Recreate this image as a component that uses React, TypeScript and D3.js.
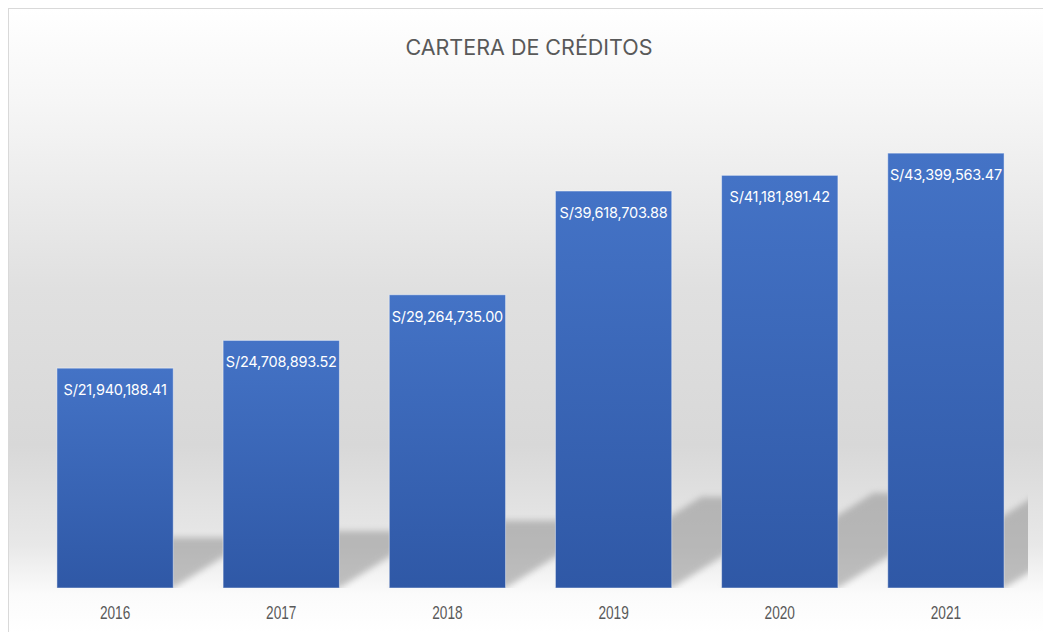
import { useEffect, useRef } from 'react';
import * as d3 from 'd3';

const years = ['2016', '2017', '2018', '2019', '2020', '2021'];
const credits = [21940188.41, 24708893.52, 29264735.0, 39618703.88, 41181891.42, 43399563.47];
const labels = [
  'S/21,940,188.41',
  'S/24,708,893.52',
  'S/29,264,735.00',
  'S/39,618,703.88',
  'S/41,181,891.42',
  'S/43,399,563.47',
];
const chartTitle = 'CARTERA DE CRÉDITOS';

const CreditChart = ({ width = 1043, height = 632 }: { width?: number; height?: number }) => {
  const svgRef = useRef<SVGSVGElement>(null);

  useEffect(() => {
    if (!svgRef.current) return;

    const svg = d3.select(svgRef.current);
    svg.selectAll('*').remove();

    const baseY = 588;
    const x = d3.scaleBand().domain(years).range([32, 1029]).paddingInner(0.3).paddingOuter(0.15);
    const y = d3.scaleLinear().domain([0, 50000000]).range([baseY, 87]);

    const defs = svg.append('defs');

    const bg = defs.append('linearGradient')
      .attr('id', 'bg-grad')
      .attr('gradientUnits', 'userSpaceOnUse')
      .attr('x1', 0).attr('y1', 8).attr('x2', 0).attr('y2', 632);
    [
      [0, '#ffffff'],
      [0.15, '#f6f6f6'],
      [0.45, '#e0e0e0'],
      [0.7, '#d8d8d8'],
      [0.86, '#e8e8e8'],
      [0.94, '#fbfbfb'],
      [1, '#ffffff'],
    ].forEach(([o, c]) => bg.append('stop').attr('offset', o as number).attr('stop-color', c as string));

    const barGrad = defs.append('linearGradient')
      .attr('id', 'bar-grad')
      .attr('x1', 0).attr('y1', 0).attr('x2', 0).attr('y2', 1);
    barGrad.append('stop').attr('offset', 0).attr('stop-color', '#4473c6');
    barGrad.append('stop').attr('offset', 1).attr('stop-color', '#2f58a6');

    defs.append('filter')
      .attr('id', 'blur')
      .attr('x', '-20%').attr('y', '-20%').attr('width', '140%').attr('height', '140%')
      .append('feGaussianBlur')
      .attr('stdDeviation', 3);

    defs.append('clipPath')
      .attr('id', 'plot-clip')
      .append('rect')
      .attr('x', 9).attr('y', 9).attr('width', 1019).attr('height', baseY - 9);

    // chart frame
    svg.append('rect')
      .attr('x', 8.5)
      .attr('y', 8.5)
      .attr('width', 1100)
      .attr('height', 700)
      .attr('fill', 'url(#bg-grad)')
      .attr('stroke', '#d9d9d9');

    svg.append('text')
      .attr('x', 529)
      .attr('y', 55)
      .attr('text-anchor', 'middle')
      .attr('font-family', 'Inter, "Open Sans", sans-serif')
      .attr('font-size', 21.5)
      .attr('fill', '#595959')
      .text(chartTitle);

    // perspective shadows behind bars
    const shadowScale = 0.23;
    const skew = 1.6;
    svg.append('g')
      .attr('clip-path', 'url(#plot-clip)')
      .selectAll('path')
      .data(credits)
      .enter().append('path')
      .attr('d', (d, i) => {
        const x0 = x(years[i]) || 0;
        const x1 = x0 + x.bandwidth();
        const h = (baseY - y(d)) * shadowScale;
        const off = h * skew;
        return `M${x0},${baseY}L${x1},${baseY}L${x1 + off},${baseY - h}L${x0 + off},${baseY - h}Z`;
      })
      .attr('fill', '#909090')
      .attr('opacity', 0.55)
      .attr('filter', 'url(#blur)');

    svg.selectAll('.bar')
      .data(credits)
      .enter().append('rect')
      .attr('class', 'bar')
      .attr('x', (d, i) => x(years[i]) || 0)
      .attr('y', d => y(d))
      .attr('width', x.bandwidth())
      .attr('height', d => baseY - y(d))
      .attr('fill', 'url(#bar-grad)')
      .attr('stroke', 'rgba(255,255,255,0.45)')
      .attr('stroke-width', 1);

    svg.selectAll('.label')
      .data(credits)
      .enter().append('text')
      .attr('class', 'label')
      .attr('x', (d, i) => (x(years[i]) || 0) + x.bandwidth() / 2)
      .attr('y', d => y(d) + 27)
      .attr('text-anchor', 'middle')
      .attr('font-family', 'Inter, "Open Sans", sans-serif')
      .attr('font-size', 14.5)
      .attr('letter-spacing', -0.2)
      .attr('fill', '#ffffff')
      .text((d, i) => labels[i]);

    // condensed year labels
    svg.append('g')
      .selectAll('text')
      .data(years)
      .enter().append('text')
      .attr('transform', d => `translate(${(x(d) || 0) + x.bandwidth() / 2},619) scale(0.78,1)`)
      .attr('text-anchor', 'middle')
      .attr('font-family', '"Liberation Sans", Arial, sans-serif')
      .attr('font-size', 17.5)
      .attr('fill', '#595959')
      .text(d => d);
  }, [width, height]);

  return (
    <svg
      ref={svgRef}
      width={width}
      height={height}
      style={{ position: 'absolute', left: 0, top: 0 }}
    />
  );
};

export default function App() {
  return <CreditChart />;
}
